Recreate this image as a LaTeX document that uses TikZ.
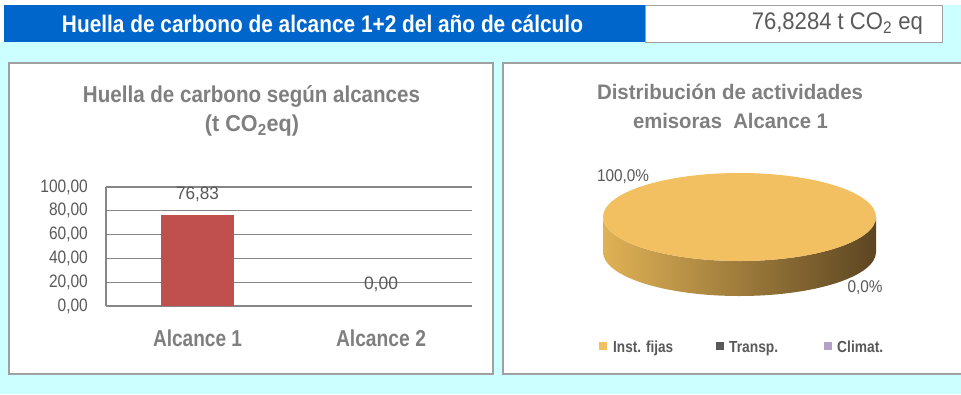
\documentclass[tikz,border=0pt]{standalone}
\usepackage{fontspec}
\setmainfont{Liberation Sans}

\definecolor{bgcyan}{HTML}{CCFFFF}
\definecolor{headblue}{HTML}{0066CC}
\definecolor{frame}{HTML}{A0A0A0}
\definecolor{titlegray}{HTML}{7F7F7F}
\definecolor{labelgray}{HTML}{595959}
\definecolor{gridgray}{HTML}{868686}
\definecolor{barred}{HTML}{C0504D}
\definecolor{pietop}{HTML}{F2C060}
\definecolor{sideL}{HTML}{E0B256}
\definecolor{sideM}{HTML}{BE9747}
\definecolor{sideR}{HTML}{5C4522}
\definecolor{transp}{HTML}{595959}
\definecolor{climat}{HTML}{B3A2C7}

% squeeze a text to a given width, keeping its height
\newcommand{\fitw}[2]{\resizebox{#1}{\height}{#2}}

\begin{document}
\begin{tikzpicture}[x=1pt, y=-1pt, every node/.style={inner sep=0pt},
    panel/.style={draw=frame, line width=1.5pt, fill=white},
    gridline/.style={draw=gridgray, line width=1.2pt}]
    \useasboundingbox (0,0) rectangle (961,394);

    \coordinate (B1) at (0,5);
    \coordinate (B2) at (961,394);
    \coordinate (H1) at (4,5);
    \coordinate (H2) at (645,42);
    \coordinate (V1) at (645,5);
    \coordinate (V2) at (942,42);
    \coordinate (L1) at (9,63);
    \coordinate (L2) at (493,374);
    \coordinate (R1) at (503,63);
    \coordinate (R2) at (964,374);

    % background and header
    \fill[bgcyan] (B1) rectangle (B2);
    \fill[white] (0,5) rectangle (H1 |- H2);
    \fill[headblue] (H1) rectangle (H2);
    \draw[frame, fill=white, line width=1pt] (V1) rectangle (V2);
    \node[white, font=\fontsize{24}{24}\selectfont\bfseries] (head) at (322.5,24)
        {\fitw{521pt}{Huella de carbono de alcance 1+2 del año de cálculo}};
    \node[labelgray, anchor=east, font=\fontsize{24}{24}\selectfont] (total) at (923,24)
        {\fitw{171pt}{76,8284 t CO\textsubscript{2} eq}};

    % left panel: bar chart
    \draw[panel] (L1) rectangle (L2);
    \node[titlegray, font=\fontsize{23}{23}\selectfont\bfseries] (bartitle) at (251.5,96)
        {\fitw{337pt}{Huella de carbono según alcances}};
    \node[titlegray, font=\fontsize{23}{23}\selectfont\bfseries] (barunit) at (252,126)
        {\fitw{94pt}{(t CO\textsubscript{2}eq)}};
    \foreach \v in {0,20,...,100} {
        \draw[gridline] (106,306-\v*1.19) -- (472,306-\v*1.19);
        \node[labelgray, anchor=east, font=\fontsize{18}{18}\selectfont] (tick\v) at (88,306-\v*1.19)
            {\resizebox{!}{\height}{\scalebox{0.86}[1]{\v,00}}};
    }
    \draw[gridline] (106,187) -- (106,306);
    \fill[barred] (161,306) rectangle (234,214.6);
    \node[labelgray, font=\fontsize{18}{18}\selectfont] (val1) at (197.5,194) {\fitw{43pt}{76,83}};
    \node[labelgray, font=\fontsize{18}{18}\selectfont] (val2) at (381,284) {\fitw{34pt}{0,00}};
    \node[titlegray, font=\fontsize{23}{23}\selectfont\bfseries] (cat1) at (197.5,338) {\fitw{89pt}{Alcance 1}};
    \node[titlegray, font=\fontsize{23}{23}\selectfont\bfseries] (cat2) at (381,338) {\fitw{90pt}{Alcance 2}};

    % right panel: pie chart
    \draw[panel] (R1) rectangle (R2);
    \node[titlegray, font=\fontsize{21}{21}\selectfont\bfseries] (pietitle) at (730,92)
        {\fitw{266pt}{Distribución de actividades}};
    \node[titlegray, font=\fontsize{21}{21}\selectfont\bfseries] (piesub) at (730.5,121)
        {\fitw{195pt}{emisoras\ \ Alcance 1}};
    \shade[left color=sideL, middle color=sideM, right color=sideR]
        (603,217) arc[start angle=180, end angle=0, x radius=136.5, y radius=44]
        -- (876,252) arc[start angle=0, end angle=180, x radius=136.5, y radius=44] -- cycle;
    \fill[pietop] (739.5,217) ellipse[x radius=136.5, y radius=44];
    \node[labelgray, font=\fontsize{17}{17}\selectfont] (pct1) at (623,177) {\fitw{52pt}{100,0\%}};
    \node[labelgray, font=\fontsize{17}{17}\selectfont] (pct2) at (865,288) {\fitw{35pt}{0,0\%}};

    % legend
    \fill[pietop] (599,342) rectangle (607,350);
    \fill[transp] (716,342) rectangle (724,350);
    \fill[climat] (824,342) rectangle (832,350);
    \node[labelgray, anchor=base west, font=\fontsize{16}{16}\selectfont\bfseries] (leg1) at (613,352) {\fitw{60pt}{Inst. fijas}};
    \node[labelgray, anchor=base west, font=\fontsize{16}{16}\selectfont\bfseries] (leg2) at (729,352) {\fitw{49pt}{Transp.}};
    \node[labelgray, anchor=base west, font=\fontsize{16}{16}\selectfont\bfseries] (leg3) at (837,352) {\fitw{46pt}{Climat.}};
\end{tikzpicture}
\end{document}
